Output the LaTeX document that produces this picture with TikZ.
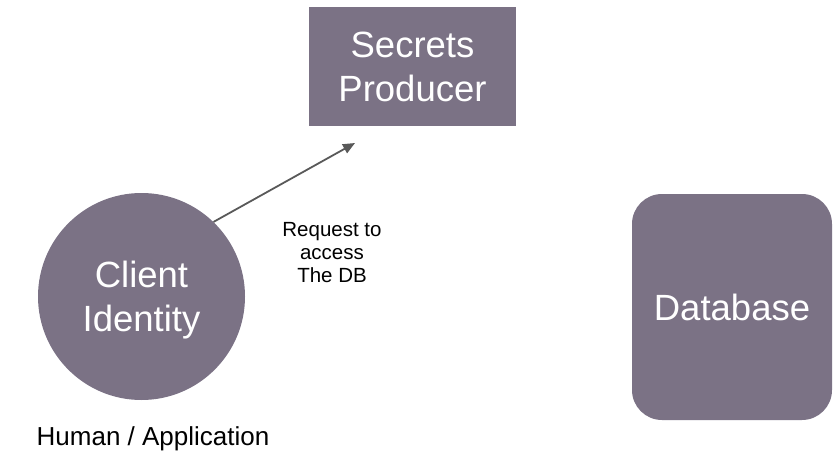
\documentclass[tikz,border=0pt]{standalone}
\usepackage{fontspec}
\setmainfont{Liberation Sans}
\usetikzlibrary{arrows.meta}
\definecolor{boxfill}{RGB}{123,114,133}
\definecolor{arrowgray}{RGB}{89,89,89}
\begin{document}
\begin{tikzpicture}[x=1pt,y=-1pt,
  shapebox/.style={fill=boxfill,draw=none,text=white,align=center,
    font=\fontsize{36.5}{44}\selectfont,inner sep=0pt},
  conn/.style={draw=arrowgray,line width=1.8pt,-{Triangle[length=12pt,width=10pt]}},
  lbl/.style={align=center,text=black,inner sep=0pt}]
\useasboundingbox (0,0) rectangle (833,452);
\node[shapebox,minimum width=207pt,minimum height=119pt] (producer) at (412.5,66.5) {Secrets\\Producer};
\node[shapebox,circle,minimum size=207pt] (client) at (141.5,296.5) {\rule{0pt}{33pt}Client\\Identity};
\node[shapebox,rounded corners=30pt,minimum width=200pt,minimum height=226pt] (db) at (732,307) {Database};
\coordinate (tip) at (355,143);
\draw[conn] (client.46) -- (tip);
\node[lbl,font=\fontsize{20.5}{23}\selectfont] (req) at (332,253) {Request to\\access\\The DB};
\node[lbl,font=\fontsize{26}{30}\selectfont] (human) at (153,439) {Human / Application};
\end{tikzpicture}
\end{document}
